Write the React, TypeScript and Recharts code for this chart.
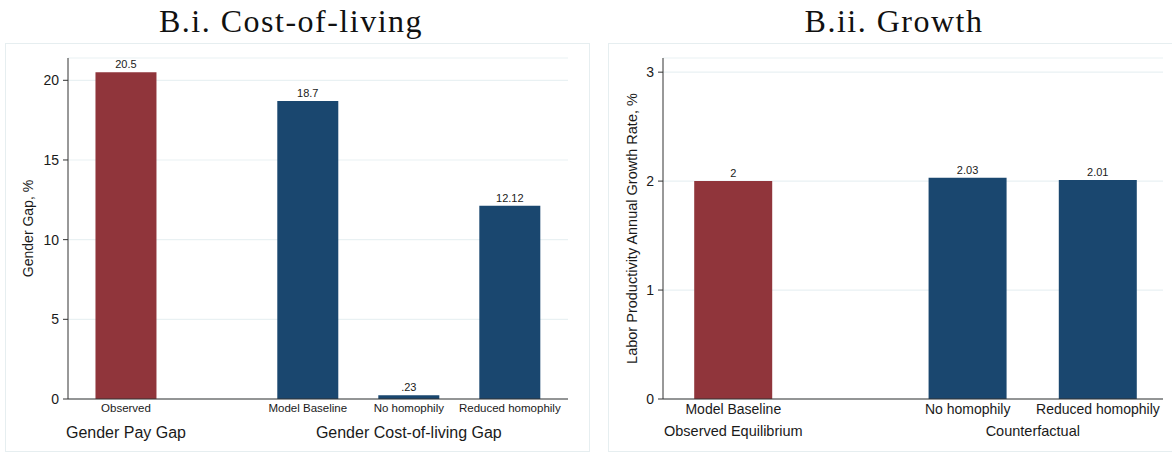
import React from 'react';
import { BarChart, Bar, XAxis, YAxis, CartesianGrid, Cell, LabelList, Label } from 'recharts';

const costCategories = ['Observed', 'Model Baseline', 'No homophily', 'Reduced homophily'];
const costGroups = ['Gender Pay Gap', 'Gender Cost-of-living Gap'];
const costGroupOf = [0, 1, 1, 1];
const costValues = [20.5, 18.7, 0.23, 12.12];
const costTicks = [0, 5, 10, 15, 20];

const growthCategories = ['Model Baseline', 'No homophily', 'Reduced homophily'];
const growthGroups = ['Observed Equilibrium', 'Counterfactual'];
const growthGroupOf = [0, 1, 1];
const growthValues = [2, 2.03, 2.01];
const growthTicks = [0, 1, 2, 3];

const RED = '#90353b';
const BLUE = '#1a476f';
const GRID = '#e9f1f3';
const AXIS = '#333';
const TEXT = '#1a1a1a';
const SANS = '"Liberation Sans", Arial, sans-serif';
const SERIF = '"Liberation Serif", "DejaVu Serif", serif';
const GROUP_GAP = 0.8;

// Stata-style value labels: 0.23 -> .23
const fmt = (v: number) => String(v).replace(/^0\./, '.');

function buildRows(cats: string[], groupOf: number[], values: number[]) {
  return cats.map((c, i) => ({ name: c, pos: i + groupOf[i] * GROUP_GAP, value: values[i], group: groupOf[i] }));
}

function groupCenters(rows: { pos: number; group: number }[], n: number) {
  return Array.from({ length: n }, (_, g) => {
    const ps = rows.filter((r) => r.group === g).map((r) => r.pos);
    return ps.reduce((a, b) => a + b, 0) / ps.length;
  });
}

interface PanelProps {
  title: string;
  left: number;
  width: number;
  cats: string[];
  groups: string[];
  groupOf: number[];
  values: number[];
  ticks: number[];
  yMax: number;
  yLabel: string;
  yLabelFont: number;
  yAxisWidth: number;
  yLabelX: number;
  rightMargin: number;
  domain: [number, number];
  barSize: number;
  catFont: number;
  groupFont: number;
  groupDy: number;
  titleCenter: number;
}

function Panel(p: PanelProps) {
  const rows = buildRows(p.cats, p.groupOf, p.values);
  const centers = groupCenters(rows, p.groups.length);
  const labelFor = (v: number) => {
    const r = rows.find((x) => Math.abs(x.pos - v) < 1e-6);
    return r ? r.name : '';
  };
  const groupFor = (v: number) => {
    const i = centers.findIndex((c) => Math.abs(c - v) < 1e-6);
    return i >= 0 ? p.groups[i] : '';
  };

  return (
    <>
      <div
        style={{
          position: 'absolute',
          left: p.titleCenter - 200,
          width: 400,
          top: 2,
          textAlign: 'center',
          fontFamily: SERIF,
          fontSize: 32,
          letterSpacing: 1.5,
          whiteSpace: 'pre',
          lineHeight: '38px',
          color: '#111',
        }}
      >
        {p.title}
      </div>
      <div
        style={{
          position: 'absolute',
          left: p.left,
          top: 43,
          width: p.width,
          height: 409,
          border: '1px solid #e6eef0',
          boxSizing: 'border-box',
          background: '#fff',
        }}
      >
        <BarChart
          width={p.width - 2}
          height={407}
          data={rows}
          margin={{ top: 14, right: p.rightMargin, bottom: 0, left: 0 }}
        >
          <CartesianGrid horizontal vertical={false} stroke={GRID} strokeWidth={1.2} />
          <XAxis
            dataKey="pos"
            type="number"
            domain={p.domain}
            ticks={rows.map((r) => r.pos)}
            interval={0}
            height={20}
            tickSize={0}
            tickMargin={0}
            tickLine={false}
            axisLine={{ stroke: AXIS }}
            tick={({ x, y, payload }: any) => (
              <text x={x} y={y + p.catFont * 0.85 + 3} textAnchor="middle" fontSize={p.catFont} fontFamily={SANS} fill={TEXT}>
                {labelFor(payload.value)}
              </text>
            )}
          />
          <XAxis
            xAxisId="grp"
            dataKey="pos"
            type="number"
            domain={p.domain}
            ticks={centers}
            interval={0}
            height={32}
            tickSize={0}
            tickMargin={0}
            tickLine={false}
            axisLine={false}
            tick={({ x, y, payload }: any) => (
              <text x={x} y={y + p.groupFont * 0.85 + p.groupDy} textAnchor="middle" fontSize={p.groupFont} fontFamily={SANS} fill={TEXT}>
                {groupFor(payload.value)}
              </text>
            )}
          />
          <YAxis
            width={p.yAxisWidth}
            domain={[0, p.yMax]}
            ticks={p.ticks}
            interval={0}
            tickSize={5}
            tickMargin={4}
            tick={{ fontSize: 14, fill: TEXT, fontFamily: SANS }}
            tickLine={{ stroke: AXIS }}
            axisLine={{ stroke: AXIS }}
          >
            <Label
              content={({ viewBox }: any) => {
                const cx = viewBox.x + p.yLabelX;
                const cy = viewBox.y + viewBox.height / 2;
                return (
                  <text
                    x={cx}
                    y={cy}
                    transform={`rotate(-90, ${cx}, ${cy})`}
                    textAnchor="middle"
                    dominantBaseline="central"
                    fontSize={p.yLabelFont}
                    fontFamily={SANS}
                    fill={TEXT}
                  >
                    {p.yLabel}
                  </text>
                );
              }}
            />
          </YAxis>
          <Bar dataKey="value" barSize={p.barSize} isAnimationActive={false}>
            {rows.map((r) => (
              <Cell key={r.name} fill={r.group === 0 ? RED : BLUE} />
            ))}
            <LabelList
              dataKey="value"
              position="top"
              offset={4}
              formatter={(v: any) => fmt(Number(v))}
              style={{ fontSize: 11, fontFamily: SANS, fill: TEXT }}
            />
          </Bar>
        </BarChart>
      </div>
    </>
  );
}

export default function App() {
  return (
    <div style={{ position: 'absolute', left: 0, top: 0, width: 1172, height: 455, overflow: 'hidden', background: '#fff' }}>
      <Panel
        title="B.i. Cost-of-living"
        titleCenter={291}
        left={5}
        width={585}
        cats={costCategories}
        groups={costGroups}
        groupOf={costGroupOf}
        values={costValues}
        ticks={costTicks}
        yMax={21.4}
        yLabel="Gender Gap, %"
        yLabelFont={14}
        yAxisWidth={62}
        yLabelX={22}
        rightMargin={21}
        domain={[-0.574, 4.376]}
        barSize={61}
        catFont={11.5}
        groupFont={16}
        groupDy={5}
      />
      <Panel
        title="B.ii. Growth"
        titleCenter={894}
        left={608}
        width={575}
        cats={growthCategories}
        groups={growthGroups}
        groupOf={growthGroupOf}
        values={growthValues}
        ticks={growthTicks}
        yMax={3.13}
        yLabel="Labor Productivity Annual Growth Rate, %"
        yLabelFont={14.5}
        yAxisWidth={54}
        yLabelX={23}
        rightMargin={19}
        domain={[-0.54, 3.3]}
        barSize={78}
        catFont={14}
        groupFont={14.5}
        groupDy={5}
      />
    </div>
  );
}
